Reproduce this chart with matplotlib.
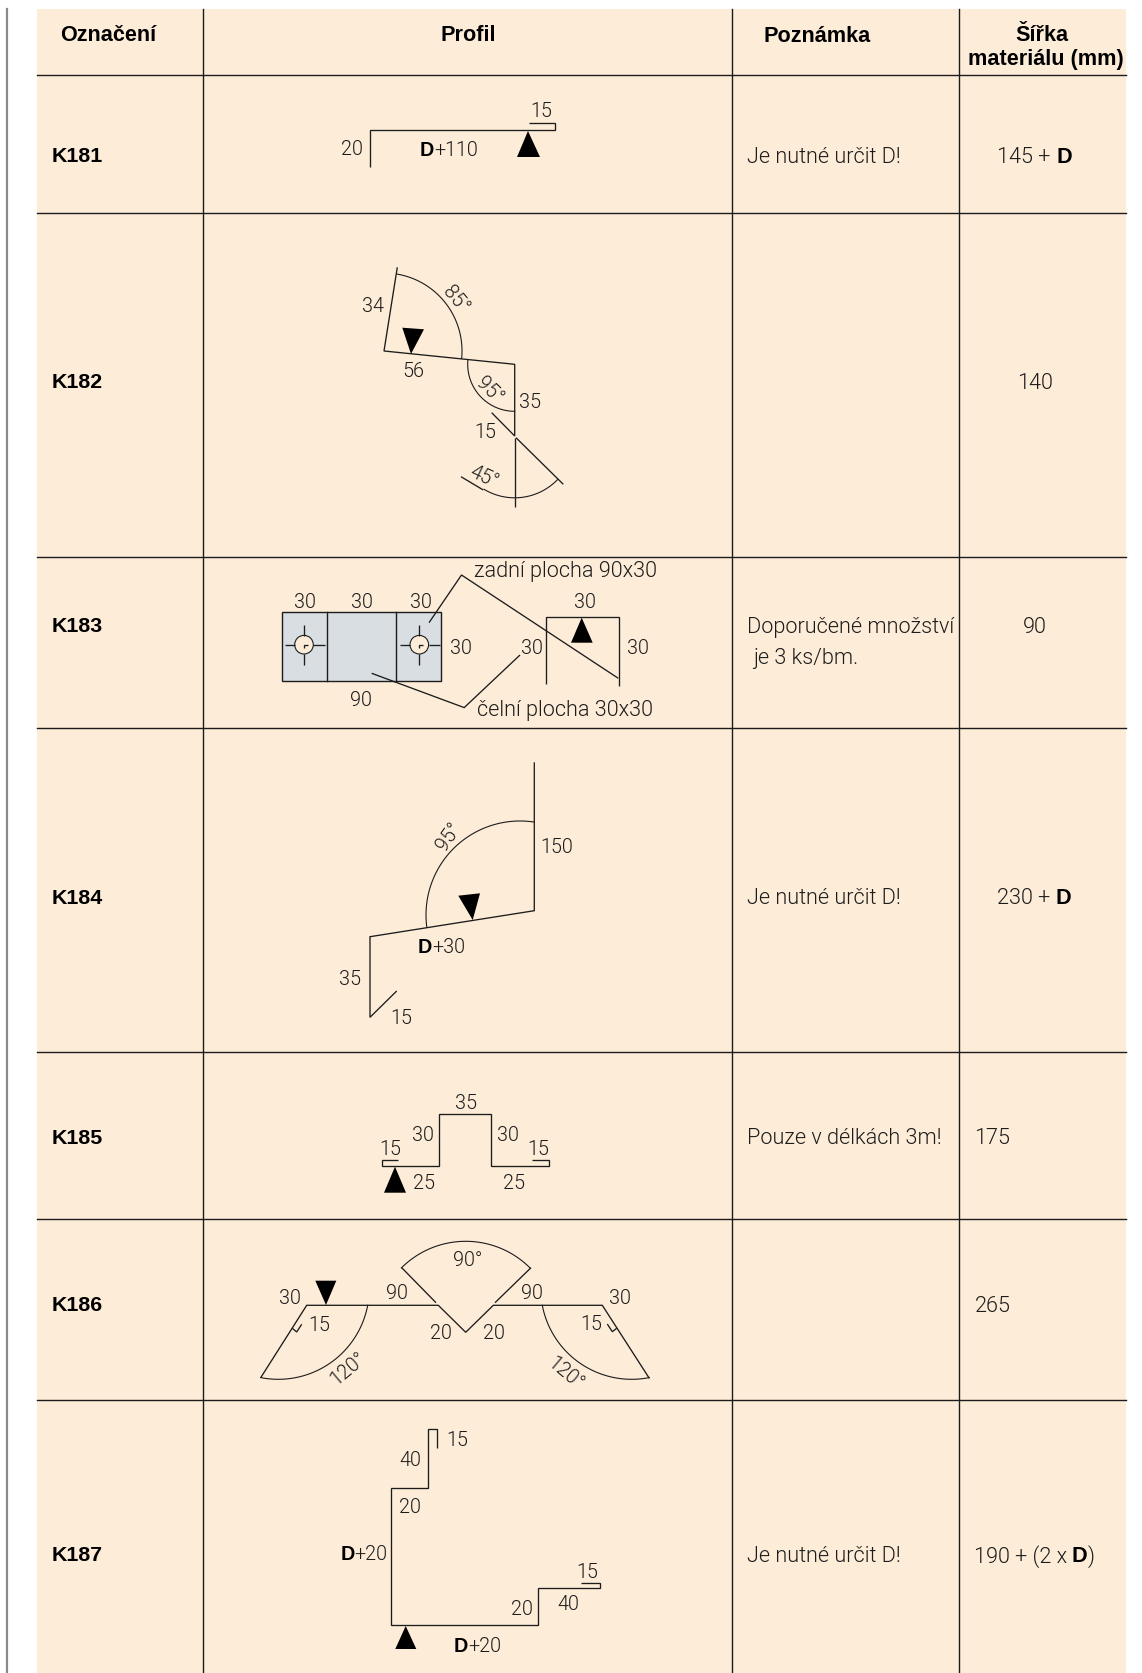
import numpy as np
import matplotlib
matplotlib.use("Agg")
import matplotlib.pyplot as plt
from matplotlib.patches import Polygon, Rectangle, Circle

plt.rcParams['font.family'] = ['Liberation Sans', 'DejaVu Sans']
LIGHT = ['Roboto', 'Liberation Sans', 'DejaVu Sans']

# ---------- table content ----------
headers = ["Označení", "Profil", "Poznámka", "Šířka", "materiálu (mm)"]
header_pos = [(108, 33), (468.5, 33), (817.6, 33.5), (1041.7, 33), (1046, 57)]
designations = ["K181", "K182", "K183", "K184", "K185", "K186", "K187"]
row_centres = [154.8, 380.6, 625, 896, 1136.3, 1303.6, 1553.6]
notes = [("Je nutné určit D!", 747, 154.8),
         ("Doporučené množství", 747, 625),
         ("je 3 ks/bm.", 753.5, 656),
         ("Je nutné určit D!", 747, 896),
         ("Pouze v délkách 3m!", 747, 1136.3),
         ("Je nutné určit D!", 747, 1553.6)]
widths = [([("145 + ", 0), ("D", 1)], 1034.5, 154.8, 'center'),
          ([("140", 0)], 1035, 380.6, 'center'),
          ([("90", 0)], 1035, 625, 'center'),
          ([("230 + ", 0), ("D", 1)], 1034, 896, 'center'),
          ([("175", 0)], 974.5, 1136.3, 'left'),
          ([("265", 0)], 974.5, 1303.6, 'left'),
          ([("190 + (2 x ", 0), ("D", 1), (")", 0)], 973.5, 1553.6, 'left')]
col_lines = [203, 732.2, 959]
row_lines = [74.7, 213.2, 557.3, 727.7, 1052.4, 1219, 1400]

# ---------- drawn profiles: polylines ----------
polylines = [
    # K181
    [(369.5, 166.5), (369.5, 129.5), (555, 129.5), (555, 123), (529, 123)],
    # K182
    [(397.3, 267.3), (384, 351), (514.7, 364.3), (514.7, 436), (491.7, 412.7)],
    [(514.7, 438.3), (514.7, 506.7)],
    [(516, 437.7), (563.3, 484.3)],
    [(483.3, 490), (461, 476.7)],
    # K183
    [(429, 622.7), (461.5, 575), (618.3, 678.3)],
    [(371.7, 673.3), (464.2, 707.6), (520, 655)],
    [(545.7, 684), (545.7, 616.7), (619, 616.7), (619, 685.7)],
    [(285, 644.7), (295, 644.7)], [(313, 644.7), (325, 644.7)],
    [(304, 625), (304, 635.5)], [(304, 654), (304, 665)],
    [(400, 644.7), (410, 644.7)], [(428.5, 644.7), (440, 644.7)],
    [(419.3, 625), (419.3, 635.5)], [(419.3, 654), (419.3, 665)],
    [(304, 647.5), (304, 644.7), (308, 644.7)],
    [(419.3, 647.5), (419.3, 644.7), (423.3, 644.7)],
    # K184
    [(534.3, 762.3), (534.3, 910.7), (370, 936.7), (370, 1017.3), (396.7, 991)],
    # K185
    [(398.3, 1160.3), (381.7, 1160.3), (381.7, 1165.7), (439.3, 1165.7), (439.3, 1114.3),
     (491.3, 1114.3), (491.3, 1165.7), (549, 1165.7), (549, 1160.3), (532.3, 1160.3)],
    # K186
    [(260.7, 1377.7), (306.7, 1305.3), (438.3, 1305.3), (465.7, 1332.3), (493.3, 1305.3),
     (602.3, 1305.3), (649.3, 1378.3)],
    [(292.3, 1328.3), (296.7, 1332), (301.7, 1324.3)],
    [(607.3, 1324), (612.3, 1331.7), (616.7, 1328.3)],
    [(401.7, 1267.7), (436, 1302.7)],
    [(531, 1267.7), (495, 1302.7)],
    # K187
    [(436.7, 1448.3), (436.7, 1429.3), (428.3, 1429.3), (428.3, 1488), (390.7, 1488), (390.7, 1625),
     (537.7, 1625), (537.7, 1588.3), (600, 1588.3), (600, 1583.3), (580.7, 1583.3)],
]
# centre x, centre y, radius, start angle, end angle (image axes, y down)
arcs = [
    (384, 351, 78, -80.3, 5.5),
    (514.7, 364.3, 47, 90, 185.4),
    (514.7, 438.3, 59.5, 44, 121),
    (520, 915, 94, 172.9, 278.6),
    (465.7, 1332.3, 91, 225, 315),
    (278.3, 1288.3, 91, 10.8, 101.2),
    (631.7, 1288.3, 91, 78.8, 169.2),
]
triangles = [
    [(528, 131), (517, 157), (540, 157)],
    [(402.3, 327.7), (424, 329.3), (411, 354)],
    [(581.7, 617.7), (571, 642.7), (592.7, 642.7)],
    [(458.3, 895.7), (480, 893.3), (472.7, 920)],
    [(395, 1166.7), (384, 1192.7), (406, 1192.7)],
    [(315.3, 1280.7), (336.3, 1280.7), (326, 1305)],
    [(405.7, 1626), (395.3, 1649), (416.3, 1649)],
]
# text, x, y, rotation
labels = [
    ("15", 541.5, 110, 0), ("20", 352, 148, 0),
    ("34", 372.8, 305, 0), ("85°", 455.3, 298, -50), ("56", 413.3, 369.5, 0),
    ("95°", 489.7, 389, -45), ("35", 530.3, 400.7, 0), ("15", 485.7, 431, 0), ("45°", 483.7, 476, -25),
    ("30", 305, 601, 0), ("30", 362.3, 601, 0), ("30", 421, 601, 0), ("30", 460.5, 646.7, 0),
    ("90", 360.7, 699, 0), ("30", 531.7, 646.7, 0), ("30", 585, 601, 0), ("30", 638, 646.7, 0),
    ("95°", 449, 835.3, 55), ("150", 556.5, 845.7, 0), ("35", 350, 977.7, 0), ("15", 401.7, 1016.7, 0),
    ("35", 465.7, 1101.7, 0), ("30", 422.7, 1134.3, 0), ("30", 508, 1134.3, 0), ("15", 390.7, 1147.7, 0),
    ("15", 538.5, 1147.7, 0), ("25", 423.8, 1182.3, 0), ("25", 514, 1182.3, 0),
    ("30", 290, 1296.7, 0), ("15", 319.5, 1324, 0), ("90", 396.7, 1291.7, 0), ("90°", 467.7, 1259.5, 0),
    ("90", 531.7, 1291.7, 0), ("30", 620, 1296.7, 0), ("15", 591.7, 1323.3, 0), ("20", 441, 1331.7, 0),
    ("20", 494.3, 1331.7, 0), ("120°", 348.3, 1367.3, 40), ("120°", 565.3, 1372.7, -40),
    ("15", 457, 1439.3, 0), ("40", 410, 1459, 0), ("20", 410, 1506, 0), ("15", 587.7, 1571, 0),
    ("40", 568.7, 1603.3, 0), ("20", 522.3, 1607.7, 0),
]
bold_labels = [("+110", 449, 148), ("+30", 441.7, 945), ("+20", 364, 1553), ("+20", 477.3, 1644)]
captions = [("zadní plocha 90x30", 474, 569.3), ("čelní plocha 30x30", 477.3, 707.8)]
plate = (282.2, 611.7, 441.2, 680.7)
plate_folds = [327.3, 396.3]
holes = [(304, 644.7, 9.3), (419.3, 644.7, 9.3)]

# ---------- styles ----------
CREAM = "#FDECD8"
INK = "#1c1c1c"
TXT = "#1c1c1c"
FS_T = 15.6
FS_L = 14.2

fig = plt.figure(figsize=(11.42, 16.73), dpi=100)
ax = fig.add_axes([0, 0, 1, 1])
ax.set_xlim(0, 1142)
ax.set_ylim(1673, 0)
ax.axis('off')

ax.add_patch(Rectangle((37, 9), 1126 - 37, 1673 - 9, fc=CREAM, ec='none', zorder=0))
ax.plot([7, 7], [9, 1673], color="#8a8a8a", lw=1.6, zorder=1)
for x in col_lines:
    ax.plot([x, x], [9, 1673], color=INK, lw=1.0, zorder=1)
for y in row_lines:
    ax.plot([37, 1126], [y, y], color=INK, lw=1.0, zorder=1)

ax.add_patch(Rectangle((plate[0], plate[1]), plate[2] - plate[0], plate[3] - plate[1],
                       fc="#D9DEE2", ec=INK, lw=1.0, zorder=2))
for x in plate_folds:
    ax.plot([x, x], [plate[1], plate[3]], color=INK, lw=1.0, zorder=3)
for cx, cy, r in holes:
    ax.add_patch(Circle((cx, cy), r, fc=CREAM, ec=INK, lw=0.8, zorder=3))

for pl in polylines:
    xs, ys = zip(*pl)
    ax.plot(xs, ys, color=INK, lw=0.95, solid_joinstyle='miter', solid_capstyle='butt', zorder=4)
for cx, cy, r, a0, a1 in arcs:
    t = np.radians(np.linspace(a0, a1, 80))
    ax.plot(cx + r * np.cos(t), cy + r * np.sin(t), color=INK, lw=0.8, zorder=4)
for tri in triangles:
    ax.add_patch(Polygon(tri, closed=True, fc="black", ec='none', zorder=5))

renderer = fig.canvas.get_renderer()


def light(**kw):
    return dict(family=LIGHT, fontweight=300, color=TXT, zorder=6, **kw)


def rich(x, y, parts, ha='center', size=FS_T):
    arts, total = [], 0
    for s, b in parts:
        style = dict(family=['Liberation Sans'], fontweight='bold', color='black', zorder=6) if b else light()
        t = ax.text(0, y, s, fontsize=size, va='center_baseline', ha='left', **style)
        probe = ax.text(0, 0, s + '.', fontsize=size, **style)
        dot = ax.text(0, 0, '.', fontsize=size, **style)
        w = probe.get_window_extent(renderer).width - dot.get_window_extent(renderer).width
        probe.remove()
        dot.remove()
        arts.append((t, w))
        total += w
    cur = x - total / 2 if ha == 'center' else x
    for t, w in arts:
        t.set_x(cur)
        cur += w


for s, (x, y) in zip(headers, header_pos):
    ax.text(x, y, s, fontsize=15.6, fontweight='bold', color='black', ha='center', va='center_baseline', zorder=6)
for s, y in zip(designations, row_centres):
    ax.text(52, y, s, fontsize=15.4, fontweight='bold', color='black', ha='left', va='center_baseline', zorder=6)
for s, x, y in notes:
    ax.text(x, y, s, fontsize=FS_T, ha='left', va='center_baseline', **light())
for parts, x, y, ha in widths:
    rich(x, y, parts, ha)
for s, x, y, rot in labels:
    ax.text(x, y + 1.5, s, fontsize=FS_L, ha='center', va='center', rotation=rot,
            rotation_mode='anchor', **light())
for s, x, y in bold_labels:
    rich(x, y, [("D", 1), (s, 0)], 'center', FS_L)
for s, x, y in captions:
    ax.text(x, y, s, fontsize=FS_T, ha='left', va='center_baseline', **light())

fig.savefig("out.png", dpi=100, facecolor='white')
